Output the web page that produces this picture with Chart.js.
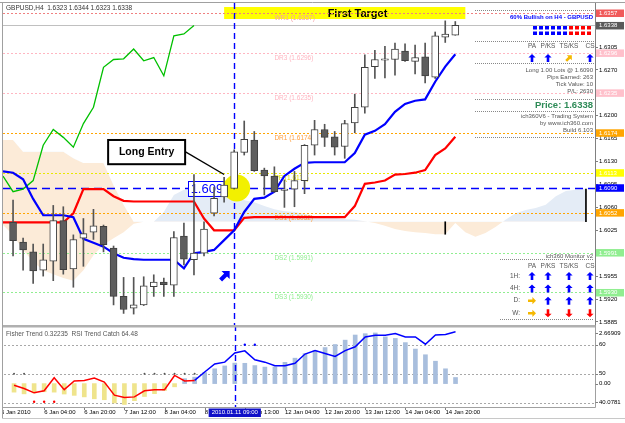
<!DOCTYPE html>
<html>
<head>
<meta charset="utf-8">
<script src="https://cdn.jsdelivr.net/npm/chart.js@4.4.1/dist/chart.umd.min.js"></script>
<style>
html, body { margin: 0; padding: 0; background: #fff; }
#wrap { position: relative; width: 625px; height: 423px; overflow: hidden; }
#main { position: absolute; left: 0; top: 0; }
#sub { position: absolute; left: 0; top: 325px; }
</style>
</head>
<body>
<div id="wrap">
  <canvas id="main" width="625" height="325"></canvas>
  <canvas id="sub" width="625" height="98"></canvas>
</div>
<script>
// GBPUSD H4 candles, bar 0 = first full candle on the left
const open  = [1.6037,1.6007,1.5992,1.5964,1.5978,1.6040,1.5966,1.6013,1.6022,1.6031,
               1.5998,1.5924,1.5906,1.5911,1.5939,1.5946,1.5941,1.6016,1.5980,1.5990,
               1.6051,1.6076,1.6089,1.6144,1.6163,1.6117,1.6108,1.6086,1.6088,1.6101,
               1.6155,1.6179,1.6168,1.6153,1.6189,1.6213,1.6275,1.6285,1.6286,1.6299,
               1.6283,1.6290,1.6259,1.6320,1.6323];
const high  = [1.6071,1.6013,1.6004,1.6004,1.6063,1.6061,1.6018,1.6043,1.6057,1.6033,
               1.6001,1.5953,1.5953,1.5954,1.5957,1.5952,1.6023,1.6036,1.6110,1.6038,
               1.6091,1.6106,1.6148,1.6192,1.6176,1.6120,1.6122,1.6102,1.6115,1.6156,
               1.6193,1.6187,1.6176,1.6193,1.6233,1.6293,1.6300,1.6306,1.6311,1.6310,
               1.6308,1.6311,1.6328,1.6345,1.6344];
const low   = [1.5986,1.5964,1.5944,1.5955,1.5948,1.5958,1.5938,1.5970,1.6011,1.5992,
               1.5911,1.5898,1.5897,1.5910,1.5924,1.5924,1.5924,1.5972,1.5957,1.5986,
               1.6047,1.6068,1.6088,1.6140,1.6115,1.6079,1.6083,1.6060,1.6061,1.6081,
               1.6140,1.6153,1.6140,1.6135,1.6174,1.6204,1.6257,1.6258,1.6262,1.6283,
               1.6264,1.6250,1.6257,1.6312,1.6323];
const close = [1.6009,1.5995,1.5963,1.5980,1.6040,1.5965,1.6011,1.6020,1.6032,1.6003,
               1.5924,1.5904,1.5911,1.5940,1.5946,1.5942,1.6014,1.5981,1.5990,1.6027,
               1.6074,1.6094,1.6145,1.6164,1.6116,1.6108,1.6084,1.6088,1.6101,1.6155,
               1.6179,1.6167,1.6152,1.6188,1.6213,1.6274,1.6286,1.6287,1.6302,1.6284,
               1.6289,1.6261,1.6322,1.6325,1.6338];

// Ichimoku lines, first value sits on bar -1
const tenkan = [1.6115,1.6113,1.6103,1.6073,1.6048,1.6048,1.6048,1.6045,1.6012,1.6006,
                1.6000,1.5990,1.5983,1.5981,1.5980,1.5980,1.5980,1.5980,1.5967,1.5990,
                1.5992,1.5995,1.6010,1.6025,1.6053,1.6073,1.6075,1.6084,1.6108,1.6119,
                1.6128,1.6129,1.6129,1.6129,1.6129,1.6143,1.6171,1.6177,1.6187,1.6206,
                1.6218,1.6223,1.6225,1.6252,1.6275,1.6294];
const kijun  = [1.6037,1.6037,1.6037,1.6037,1.6037,1.6037,1.6037,1.6051,1.6088,1.6088,
                1.6088,1.6077,1.6070,1.6069,1.6069,1.6069,1.6069,1.6069,1.6069,1.6069,
                1.6043,1.6025,1.6025,1.6025,1.6044,1.6045,1.6045,1.6045,1.6045,1.6045,
                1.6045,1.6045,1.6045,1.6045,1.6045,1.6062,1.6096,1.6098,1.6101,1.6110,
                1.6111,1.6113,1.6117,1.6140,1.6150,1.6168];
// cloud, bars -1 .. 57
const spanA = [1.6033,1.6018,1.5995,1.5977,1.5964,1.5958,1.5952,1.5948,1.5964,1.5987,
               1.6003,1.6013,1.6022,1.6035,1.6038,1.6038,1.6053,1.6079,1.6087,1.6085,
               1.6084,1.6080,1.6077,1.6076,1.6071,1.6068,1.6062,1.6057,1.6054,1.6053,
               1.6050,1.6047,1.6045,1.6044,1.6042,1.6041,1.6039,1.6036,1.6032,1.6027,
               1.6024,1.6022,1.6021,1.6019,1.6019,1.6036,1.6022,1.6015,1.6021,1.6030,
               1.6041,1.6051,1.6056,1.6059,1.6064,1.6077,1.6085,1.6087,1.6088];
const spanB = [1.6163,1.6163,1.6145,1.6145,1.6145,1.6145,1.6145,1.6135,1.6128,1.6128,
               1.6128,1.6094,1.6064,1.6038,1.6038,1.6038,1.6038,1.6038,1.6038,1.6038,
               1.6038,1.6038,1.6038,1.6038,1.6038,1.6038,1.6038,1.6038,1.6038,1.6038,
               1.6038,1.6038,1.6038,1.6038,1.6038,1.6038,1.6038,1.6038,1.6038,1.6038,
               1.6038,1.6038,1.6038,1.6038,1.6038,1.6038,1.6038,1.6038,1.6038,1.6038,
               1.6038,1.6038,1.6038,1.6038,1.6038,1.6038,1.6038,1.6038,1.6038];
const cloudEdgeBars = [43, 57];

const priceTicks = [1.5885,1.5920,1.5955,1.5990,1.6025,1.6060,1.6095,1.6130,1.6165,1.6200,1.6235,1.6270,1.6305,1.6340];
const levelNames  = ['WR1','DR3','DR2','DR1','PP','DS1','DS2','DS3'];
const levelValues = [1.6357,1.6296,1.6235,1.6174,1.6113,1.6052,1.5991,1.5930];
const entryPrice = 1.6090;
const entryBar = 22;

// lower window
const fisher = [-0.45,-0.54,-0.49,-0.43,-0.45,-0.55,-0.62,-0.70,-0.80,-0.85,
                -1.02,-1.10,-0.90,-0.68,-0.53,-0.36,-0.17,0.26,0.34,0.58,
                0.78,0.93,1.08,1.07,0.95,0.87,0.88,1.12,1.34,1.58,
                1.74,1.90,2.06,2.29,2.56,2.63,2.66909,2.46,2.38,2.16,
                1.82,1.52,1.18,0.78,0.32235];
const rsi = [46.0,44.9,43.4,44.1,48.6,44.5,47.5,47.7,48.5,47.1,
             42.6,41.8,42.0,44.1,44.5,44.5,49.4,47.5,47.7,50.6,
             53.4,54.0,57.2,57.9,54.8,54.0,52.8,52.8,53.6,56.8,
             58.0,57.0,56.0,58.0,59.3,62.7,63.3,63.3,63.9,62.7,
             62.7,60.2,63.4,63.6,64.48];
const rsiTurn = 18;
const rsiLevels = [60, 50, 40];
const rsiFloor = 40.0781;
const dotsMid = [0, 1, 13, 14, 15, 16, 17, 18];
const dotsLow = [2, 3, 4];
const dotsHigh = [23, 24];
const dotMid = 50, dotLow = 40.3, dotHigh = 60;

const timeLabels = ['5 Jan 2010','6 Jan 04:00','6 Jan 20:00','7 Jan 12:00','8 Jan 04:00','8 Jan 20:00',
                    '11 Jan 13:00','12 Jan 04:00','12 Jan 20:00','13 Jan 12:00','14 Jan 04:00','14 Jan 20:00'];
const timeLabelBars = [-1.3, 3, 7, 11, 15, 19, 23, 27, 31, 35, 39, 43];
const entryTimeLabel = '2010.01.11 09:00';

const topSignals = ['up', 'up', 'ne', 'up'];
const monitorRows = ['1H:', '4H:', 'D:', 'W:'];
const monitorSignals = [['up','up','up','up'], ['up','up','up','up'], ['right','up','up','up'], ['right','down','down','down']];

// ---------- drawing ----------
const FONT = '"Liberation Sans", Arial, sans-serif';
Chart.defaults.font.family = FONT;
const xMin = -1, xMax = 57.9;

const levelStyle = {
  WR1: { line: '#F08080', text: '#F4A0A8', box: '#F05A5A' },
  DR3: { line: '#FFB6C1', text: '#FFB6C1', box: '#FFC0CB' },
  DR2: { line: '#FFB6C1', text: '#FFB6C1', box: '#FFC0CB' },
  DR1: { line: '#FFA500', text: '#FFA040', box: '#FFA500' },
  PP:  { line: '#E8E800', text: '#E0E000', box: '#FFFF00' },
  DS1: { line: '#FFA500', text: '#FFA040', box: '#FFA500' },
  DS2: { line: '#90EE90', text: '#90EE90', box: '#90EE90' },
  DS3: { line: '#90EE90', text: '#90EE90', box: '#90EE90' }
};
const arrowColor = { up: '#0000FF', down: '#FF0000', right: '#F5B800', ne: '#F5B800' };
const arrowAngle = { up: 0, down: Math.PI, right: Math.PI / 2, ne: Math.PI / 4 };

const fromBar = (arr, start) => arr.map((v, k) => ({ x: start + k, y: v }));

function seg(ctx, x1, y1, x2, y2) {
  ctx.beginPath(); ctx.moveTo(x1, y1); ctx.lineTo(x2, y2); ctx.stroke();
}

function arrow(ctx, cx, cy, ang, color, s) {
  ctx.save();
  ctx.translate(cx, cy); ctx.rotate(ang); ctx.scale(s, s);
  ctx.fillStyle = color;
  ctx.beginPath();
  ctx.moveTo(0, -4); ctx.lineTo(3.6, -0.4); ctx.lineTo(1.3, -0.4); ctx.lineTo(1.3, 4);
  ctx.lineTo(-1.3, 4); ctx.lineTo(-1.3, -0.4); ctx.lineTo(-3.6, -0.4);
  ctx.closePath(); ctx.fill();
  ctx.restore();
}

const mainDeco = {
  id: 'mainDeco',
  afterDatasetDraw(chart, args) {
    if (args.index !== 1) return; // right after the cloud
    const { ctx, chartArea: a, scales: { x, y } } = chart;
    ctx.save();
    ctx.beginPath(); ctx.rect(a.left, a.top, a.right - a.left, a.bottom - a.top); ctx.clip();

    // first target box
    const yW = y.getPixelForValue(levelValues[0]);
    ctx.fillStyle = '#FFFF00';
    ctx.fillRect(x.getPixelForValue(21), yW - 6, x.getPixelForValue(45) - x.getPixelForValue(21), 12);
    ctx.fillStyle = '#000'; ctx.font = 'bold 11px ' + FONT;
    ctx.textBaseline = 'middle'; ctx.textAlign = 'left';
    ctx.fillText('First Target', x.getPixelForValue(31.3), yW + 1);

    // bid line
    ctx.strokeStyle = '#C0C0C0'; ctx.lineWidth = 1;
    const yb = Math.round(y.getPixelForValue(close[close.length - 1])) + 0.5;
    seg(ctx, a.left, yb, a.right, yb);

    // pivot levels
    ctx.font = '6.5px ' + FONT;
    levelNames.forEach((n, k) => {
      const py = Math.round(y.getPixelForValue(levelValues[k])) + 0.5;
      ctx.strokeStyle = levelStyle[n].line; ctx.setLineDash([2, 2]);
      seg(ctx, a.left, py, a.right, py);
      ctx.fillStyle = levelStyle[n].text;
      ctx.fillText(n + ' (' + levelValues[k].toFixed(4) + ')', x.getPixelForValue(26), py + 4.5);
    });

    // entry price line
    const ye = Math.round(y.getPixelForValue(entryPrice)) + 0.5;
    ctx.strokeStyle = '#0000FF'; ctx.lineWidth = 1.4; ctx.setLineDash([8, 5]);
    seg(ctx, a.left, ye, a.right, ye);

    // entry bar vertical line
    const xe = Math.round(x.getPixelForValue(entryBar)) + 0.5;
    ctx.setLineDash([6, 4]);
    seg(ctx, xe, a.top, xe, a.bottom);
    ctx.setLineDash([]);

    // entry price box and marker
    const bx = x.getPixelForValue(17.42);
    ctx.fillStyle = '#fff'; ctx.fillRect(bx, ye - 8, 46, 15);
    ctx.strokeStyle = '#0000FF'; ctx.lineWidth = 1;
    ctx.strokeRect(Math.round(bx) + 0.5, Math.round(ye - 8) + 0.5, 46, 15);
    ctx.fillStyle = '#0000FF'; ctx.font = '13px ' + FONT;
    ctx.fillText(entryPrice.toFixed(4), bx + 2.5, ye + 0.5);
    ctx.fillStyle = '#F2F000';
    ctx.beginPath(); ctx.arc(x.getPixelForValue(22.25), ye - 0.5, 13.5, 0, Math.PI * 2); ctx.fill();
    ctx.restore();
  },
  afterDatasetsDraw(chart) {
    const { ctx, scales: { x, y } } = chart;
    ctx.save();
    // Long Entry callout
    const l = x.getPixelForValue(9.46), r = x.getPixelForValue(17.12);
    const t = y.getPixelForValue(1.6163), b = y.getPixelForValue(1.6126);
    ctx.strokeStyle = '#000'; ctx.lineWidth = 1.3;
    seg(ctx, r, (t + b) / 2 - 0.5, x.getPixelForValue(21.0), y.getPixelForValue(1.6092) - 12);
    ctx.fillStyle = '#fff'; ctx.fillRect(l, t, r - l, b - t);
    ctx.lineWidth = 2; ctx.strokeRect(l, t, r - l, b - t);
    ctx.fillStyle = '#000'; ctx.font = 'bold 10.5px ' + FONT;
    ctx.textAlign = 'center'; ctx.textBaseline = 'middle';
    ctx.fillText('Long Entry', (l + r) / 2, (t + b) / 2 + 0.5);
    // buy arrow under the entry bar
    arrow(ctx, x.getPixelForValue(21.1), y.getPixelForValue(1.5956), Math.PI / 4, '#0000FF', 1.6);
    ctx.restore();
  },
  afterDraw(chart) {
    const { ctx, scales: { y } } = chart;
    ctx.save();
    ctx.textBaseline = 'middle';
    // title
    ctx.fillStyle = '#333'; ctx.font = '6.5px ' + FONT; ctx.textAlign = 'left';
    const n = close.length - 1;
    ctx.fillText('GBPUSD,H4  ' + [open[n], high[n], low[n], close[n]].map(v => v.toFixed(4)).join(' '), 6, 8);

    // info panel, top
    const R = 593;
    ctx.strokeStyle = '#888'; ctx.lineWidth = 1; ctx.setLineDash([1, 1]);
    [10.5, 41.5, 63.5, 99.5, 111.5, 137.5].forEach(py => seg(ctx, 475, py, 594, py));
    [259.5, 319.5].forEach(py => seg(ctx, 500, py, 594, py));
    ctx.setLineDash([]);
    ctx.textAlign = 'right';
    ctx.fillStyle = '#0000FF'; ctx.font = 'bold 6px ' + FONT;
    ctx.fillText('60% Bullish on H4 - GBPUSD', R, 17);
    for (let c = 0; c < 10; c++) {
      ctx.fillStyle = c < 6 ? '#0000FF' : '#FF0000';
      ctx.fillRect(533 + c * 6, 26, 4, 3.5);
      ctx.fillRect(533 + c * 6, 31.5, 4, 3.5);
    }
    const cols = [532, 548, 569, 590];
    const heads = ['PA', 'P/KS', 'TS/KS', 'CS'];
    ctx.fillStyle = '#555'; ctx.font = '6.5px ' + FONT; ctx.textAlign = 'center';
    heads.forEach((h, k) => ctx.fillText(h, cols[k], 46));
    topSignals.forEach((s, k) => arrow(ctx, cols[k], 58, arrowAngle[s], arrowColor[s], 1));
    ctx.textAlign = 'right'; ctx.fillStyle = '#555'; ctx.font = '6px ' + FONT;
    ctx.fillText('Long 1.00 Lots @ ' + entryPrice.toFixed(4), R, 70);
    ctx.fillText('Pips Earned: 263', R, 77.3);
    ctx.fillText('Tick Value: 10', R, 84.3);
    ctx.fillText('P/L: 2630', R, 91.7);
    ctx.fillStyle = '#2E8B57'; ctx.font = 'bold 9.5px ' + FONT;
    ctx.fillText('Price: ' + close[n].toFixed(4), R, 105);
    ctx.fillStyle = '#555'; ctx.font = '6px ' + FONT;
    ctx.fillText('ich360V6 - Trading System', R, 116.7);
    ctx.fillText('by www.ich360.com', R, 123.3);
    ctx.fillText('Build 6.103', R, 130);

    // monitor panel, bottom
    ctx.fillText('ich360 Monitor v2', R, 256);
    ctx.textAlign = 'center'; ctx.font = '6.5px ' + FONT;
    heads.forEach((h, k) => ctx.fillText(h, cols[k], 266));
    const rowsY = [276, 288.5, 300.7, 313.3];
    monitorRows.forEach((lab, r) => {
      ctx.textAlign = 'right'; ctx.fillStyle = '#555';
      ctx.fillText(lab, 520, rowsY[r]);
      monitorSignals[r].forEach((s, k) => arrow(ctx, cols[k], rowsY[r], arrowAngle[s], arrowColor[s], 1));
    });

    // coloured price boxes on the axis
    const boxes = levelNames.map((nm, k) => [levelValues[k], levelStyle[nm].box])
      .concat([[close[n], '#5A5A5A'], [entryPrice, '#0000FF']]);
    ctx.font = '6px ' + FONT; ctx.textAlign = 'left';
    boxes.forEach(([v, col]) => {
      const py = y.getPixelForValue(v);
      ctx.fillStyle = col; ctx.fillRect(596, py - 3.5, 28, 7.5);
      ctx.fillStyle = '#fff'; ctx.fillText(v.toFixed(4), 599, py + 0.3);
    });

    // frame
    ctx.strokeStyle = '#A0A0A0'; ctx.lineWidth = 1;
    seg(ctx, 0, 2.5, 625, 2.5);
    seg(ctx, 2.5, 2.5, 2.5, 325);
    ctx.restore();
  }
};

new Chart(document.getElementById('main'), {
  type: 'bar',
  data: {
    datasets: [
      { type: 'line', data: fromBar(spanB, -1), borderColor: 'rgba(0,0,0,0)', pointRadius: 0, fill: false, order: 20 },
      { type: 'line', data: fromBar(spanA, -1), borderColor: 'rgba(0,0,0,0)', pointRadius: 0,
        fill: { target: 0, above: '#E4ECF6', below: '#FCEBD8' }, order: 19 },
      { data: cloudEdgeBars.map(b => ({ x: b, y: [spanA[b + 1], spanB[b + 1]] })),
        backgroundColor: '#000', barThickness: 1, grouped: false, order: 18 },
      { type: 'line', data: close.slice(25).map((c, k) => ({ x: k - 1, y: c })),
        borderColor: '#00C000', borderWidth: 1.3, pointRadius: 0, order: 8 },
      { type: 'line', data: fromBar(kijun, -1), borderColor: '#FF0000', borderWidth: 2.2, pointRadius: 0, order: 7 },
      { type: 'line', data: fromBar(tenkan, -1), borderColor: '#0000FF', borderWidth: 2.2, pointRadius: 0, order: 6 },
      { data: open.map((_, i) => ({ x: i, y: [low[i], high[i]] })),
        backgroundColor: '#555', barThickness: 1, grouped: false, order: 2 },
      { data: open.map((o, i) => ({ x: i, y: [o, close[i]] })),
        backgroundColor: c => close[c.dataIndex] >= open[c.dataIndex] ? '#FFFFFF' : '#5E5E5E',
        borderColor: '#404040', borderWidth: 1, borderSkipped: false, barThickness: 7, grouped: false, order: 1 }
    ]
  },
  options: {
    responsive: false, animation: false, devicePixelRatio: 1,
    layout: { padding: { left: 3, top: 3, right: 0, bottom: 0 } },
    plugins: { legend: { display: false }, tooltip: { enabled: false } },
    scales: {
      x: { type: 'linear', min: xMin, max: xMax, offset: false, display: false },
      y: {
        position: 'right', min: 1.58803, max: 1.63723,
        afterBuildTicks: s => { s.ticks = priceTicks.map(v => ({ value: v })); },
        afterFit: s => { s.width = 30; s.paddingTop = 0; s.paddingBottom = 0; },
        ticks: { font: { size: 6 }, color: '#000', padding: 1, callback: v => v.toFixed(4) },
        grid: { drawOnChartArea: false, tickLength: 3, color: '#808080' },
        border: { color: '#808080' }
      }
    }
  },
  plugins: [mainDeco]
});

const subDeco = {
  id: 'subDeco',
  beforeDatasetsDraw(chart) {
    const { ctx, chartArea: a, scales: { yr } } = chart;
    ctx.save();
    ctx.strokeStyle = '#A8A8A8'; ctx.lineWidth = 1; ctx.setLineDash([2, 2]);
    rsiLevels.forEach(v => {
      const py = Math.round(yr.getPixelForValue(v)) + 0.5;
      seg(ctx, a.left, py, a.right, py);
    });
    ctx.restore();
  },
  afterDatasetsDraw(chart) {
    const { ctx, chartArea: a, scales: { x } } = chart;
    ctx.save();
    const xe = Math.round(x.getPixelForValue(entryBar)) + 0.5;
    ctx.strokeStyle = '#0000FF'; ctx.lineWidth = 1.4; ctx.setLineDash([6, 4]);
    seg(ctx, xe, 0, xe, a.bottom);
    ctx.restore();
  },
  afterDraw(chart) {
    const { ctx, chartArea: a, scales: { x, yr, yf } } = chart;
    ctx.save();
    ctx.textBaseline = 'middle';
    // frame
    ctx.fillStyle = '#B0B0B0'; ctx.fillRect(2, 0, 594, 2.5);
    ctx.strokeStyle = '#A0A0A0'; ctx.lineWidth = 1;
    seg(ctx, 2.5, 0, 2.5, 93.5);
    seg(ctx, 595.5, 0, 595.5, a.bottom + 0.5);
    seg(ctx, 2.5, a.bottom + 0.5, 595.5, a.bottom + 0.5);
    ctx.strokeStyle = '#C8C8C8';
    seg(ctx, 2.5, 93.5, 625, 93.5);

    // title
    ctx.fillStyle = '#555'; ctx.font = '6.5px ' + FONT; ctx.textAlign = 'left';
    ctx.fillText('Fisher Trend ' + fisher[fisher.length - 1].toFixed(5) + '  RSI Trend Catch ' + rsi[rsi.length - 1].toFixed(2), 6, 9);

    // right scale labels
    const marks = [
      [yf.getPixelForValue(Math.max(...fisher)), Math.max(...fisher).toFixed(5)],
      [yr.getPixelForValue(rsiLevels[0]), String(rsiLevels[0])],
      [yr.getPixelForValue(rsiLevels[1]), String(rsiLevels[1])],
      [yf.getPixelForValue(0), (0).toFixed(2)],
      [yr.getPixelForValue(rsiFloor), rsiFloor.toFixed(4)]
    ];
    ctx.fillStyle = '#000'; ctx.font = '6px ' + FONT; ctx.strokeStyle = '#808080';
    marks.forEach(([py, t]) => {
      seg(ctx, 595.5, Math.round(py) + 0.5, 598, Math.round(py) + 0.5);
      ctx.fillText(t, 599, py);
    });

    // time axis
    ctx.save();
    ctx.beginPath(); ctx.rect(3, a.bottom, 592, 15); ctx.clip();
    timeLabels.forEach((t, k) => {
      const px = x.getPixelForValue(timeLabelBars[k]);
      seg(ctx, Math.round(px) + 0.5, a.bottom + 1, Math.round(px) + 0.5, a.bottom + 3);
      ctx.fillText(t, px, a.bottom + 5.5);
    });
    ctx.restore();
    const xe = x.getPixelForValue(entryBar);
    const w = ctx.measureText(entryTimeLabel).width + 6;
    ctx.fillStyle = '#1010C8'; ctx.fillRect(xe - w / 2, a.bottom + 1.5, w, 8.5);
    ctx.fillStyle = '#fff'; ctx.textAlign = 'center';
    ctx.fillText(entryTimeLabel, xe, a.bottom + 5.8);
    ctx.restore();
  }
};

const dotData = (bars, v) => bars.map(b => ({ x: b, y: v }));

new Chart(document.getElementById('sub'), {
  type: 'bar',
  data: {
    datasets: [
      { type: 'line', data: fromBar(rsi.slice(0, rsiTurn + 1), 0), yAxisID: 'yr',
        borderColor: '#FF0000', borderWidth: 1.5, pointRadius: 0, order: 1 },
      { type: 'line', data: fromBar(rsi.slice(rsiTurn), rsiTurn), yAxisID: 'yr',
        borderColor: '#0000FF', borderWidth: 1.5, pointRadius: 0, order: 1 },
      { type: 'line', data: dotData(dotsMid, dotMid), yAxisID: 'yr', showLine: false,
        pointRadius: 1, pointBorderWidth: 0, pointBackgroundColor: '#555', order: 2 },
      { type: 'line', data: dotData(dotsLow, dotLow), yAxisID: 'yr', showLine: false,
        pointRadius: 1.2, pointBorderWidth: 0, pointBackgroundColor: '#FF0000', order: 2 },
      { type: 'line', data: dotData(dotsHigh, dotHigh), yAxisID: 'yr', showLine: false,
        pointRadius: 1.2, pointBorderWidth: 0, pointBackgroundColor: '#0000FF', order: 2 },
      { data: fromBar(fisher, 0), yAxisID: 'yf', barThickness: 4, grouped: false,
        backgroundColor: c => c.raw.y >= 0 ? '#A8BEDD' : '#EFE48C', order: 3 }
    ]
  },
  options: {
    responsive: false, animation: false, devicePixelRatio: 1,
    layout: { padding: { left: 3, top: 3, right: 30, bottom: 16 } },
    plugins: { legend: { display: false }, tooltip: { enabled: false } },
    scales: {
      x: { type: 'linear', min: xMin, max: xMax, offset: false, display: false },
      yr: { position: 'right', min: 38.50, max: 65.46, display: false },
      yf: { position: 'right', min: -1.233, max: 2.877, display: false }
    }
  },
  plugins: [subDeco]
});
</script>
</body>
</html>
